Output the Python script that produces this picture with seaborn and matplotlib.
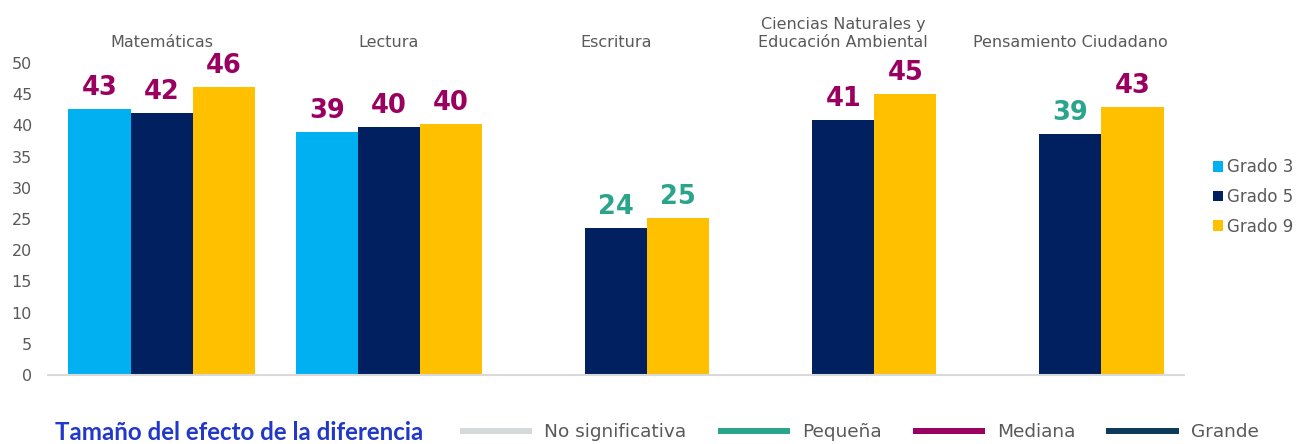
import matplotlib
matplotlib.use("Agg")
import matplotlib.pyplot as plt
from matplotlib.lines import Line2D
from matplotlib.patches import Patch
import numpy as np
import pandas as pd
import seaborn as sns

# ---------------- data ----------------
areas = ["Matemáticas", "Lectura", "Escritura", "Ciencias Naturales", "Pensamiento Ciudadano"]
area_labels = ["Matemáticas", "Lectura", "Escritura",
               "Ciencias Naturales y\nEducación Ambiental", "Pensamiento Ciudadano"]
grades = ["Grado 3", "Grado 5", "Grado 9"]
grado3 = [42.6, 39.0, np.nan, np.nan, np.nan]
grado5 = [42.0, 39.7, 23.6, 40.9, 38.7]
grado9 = [46.2, 40.2, 25.2, 45.0, 42.9]
effect3 = ["Mediana", "Mediana", None, None, None]
effect5 = ["Mediana", "Mediana", "Pequeña", "Mediana", "Pequeña"]
effect9 = ["Mediana", "Mediana", "Pequeña", "Mediana", "Mediana"]
effect_levels = ["No significativa", "Pequeña", "Mediana", "Grande"]
y_ticks = [0, 5, 10, 15, 20, 25, 30, 35, 40, 45, 50]

# ---------------- styles ----------------
grade_colors = {"Grado 3": "#00B0F0", "Grado 5": "#002060", "Grado 9": "#FFC000"}
effect_colors = {"No significativa": "#D5D9D9", "Pequeña": "#2AA58B",
                 "Mediana": "#990060", "Grande": "#0D3A5A"}
text_gray = "#595959"

sns.set_theme(style="white")
plt.rcParams["font.family"] = ["DejaVu Sans"]

rows = []
for g, vals in zip(grades, [grado3, grado5, grado9]):
    for a, v in zip(areas, vals):
        rows.append({"Área": a, "Grado": g, "Puntaje": v})
df = pd.DataFrame(rows)

fig = plt.figure(figsize=(13.07, 4.44), dpi=100)
ax = fig.add_axes([48 / 1307, 1 - 375 / 444, (1184 - 48) / 1307, (375 - 63) / 444])

sns.barplot(data=df.dropna(), x="Área", y="Puntaje", hue="Grado", order=areas,
            hue_order=grades, palette=grade_colors, saturation=1, width=0.82,
            linewidth=0, errorbar=None, legend=False, ax=ax)

# value labels
for cont, effects, vals in zip(ax.containers, [effect3, effect5, effect9],
                               [grado3, grado5, grado9]):
    eff = [e for e, v in zip(effects, vals) if not np.isnan(v)]
    for bar, e in zip(cont.patches, eff):
        h = bar.get_height()
        ax.annotate(f"{h:.0f}", (bar.get_x() + bar.get_width() / 2, h),
                    xytext=(0, 10), textcoords="offset points",
                    ha="center", va="baseline", fontsize=18.5, fontweight="bold",
                    color=effect_colors[e])

ax.set_ylim(0, 50)
ax.set_xlim(-0.5, len(areas) - 0.5)
ax.set_yticks(y_ticks)
ax.set_xticks(range(len(areas)))
ax.set_xticklabels(area_labels)
ax.xaxis.tick_top()
ax.set_xlabel("")
ax.set_ylabel("")
ax.tick_params(axis="x", length=0, pad=9.5, labelsize=11.5, labelcolor=text_gray)
ax.tick_params(axis="y", length=0, pad=11.5, labelsize=11.5, labelcolor=text_gray)
for s in ["left", "right", "top"]:
    ax.spines[s].set_visible(False)
ax.spines["bottom"].set_color("#D9D9D9")
ax.spines["bottom"].set_linewidth(1.5)
ax.grid(False)

# right legend (grades)
grade_handles = [Patch(facecolor=grade_colors[g], edgecolor="none", label=g) for g in grades]
fig.legend(handles=grade_handles, loc="center left",
           bbox_to_anchor=(1213 / 1307, 1 - 197 / 444), frameon=False,
           fontsize=12, handlelength=0.6, handleheight=0.6, handletextpad=0.25,
           labelspacing=0.7, borderpad=0, borderaxespad=0, labelcolor=text_gray)

# bottom legend (effect size)
fig.text(55 / 1307, 1 - 432 / 444, "Tamaño del efecto de la diferencia",
         family=["Lato", "DejaVu Sans"], fontweight="bold", fontsize=17.4,
         color="#2138C9", va="center", ha="left")
eff_handles = [Line2D([0], [0], color=effect_colors[e], lw=4.3, solid_capstyle="butt",
                      label=e) for e in effect_levels]
fig.legend(handles=eff_handles, loc="center left", ncol=4,
           bbox_to_anchor=(460 / 1307, 1 - 432 / 444), frameon=False,
           fontsize=13.3, handlelength=3.9, handletextpad=0.65, columnspacing=1.7,
           borderpad=0, borderaxespad=0, labelcolor=text_gray)

fig.savefig("out.png", dpi=100)
